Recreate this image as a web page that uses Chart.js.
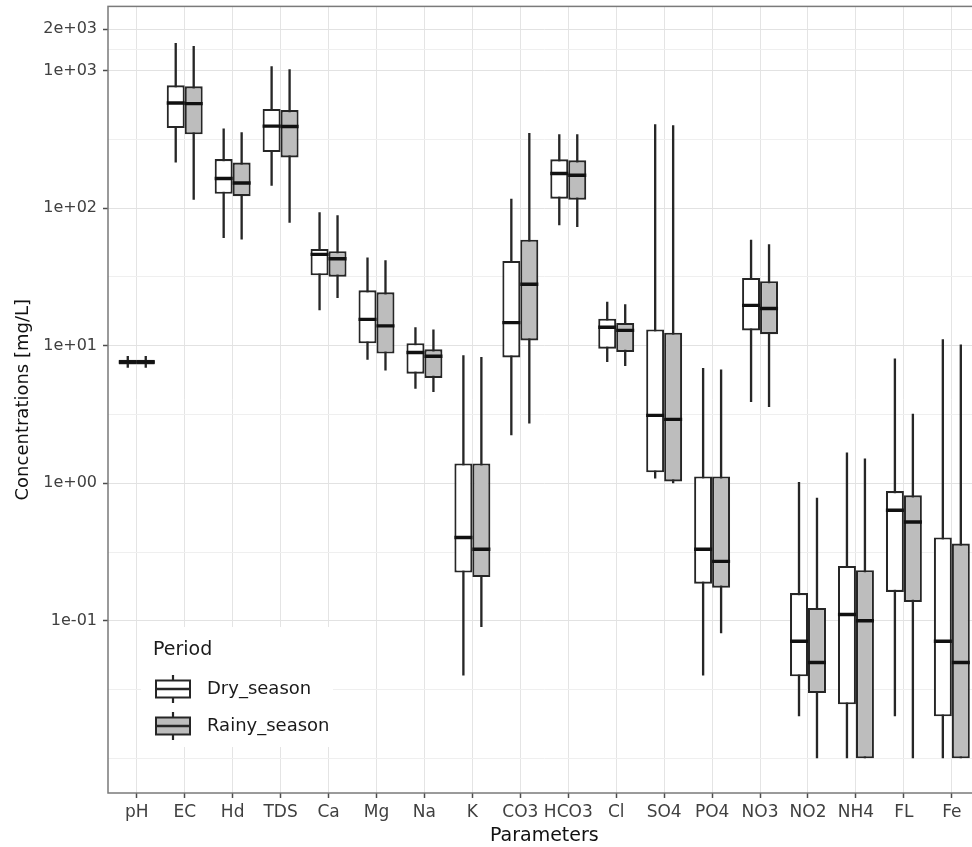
<!DOCTYPE html>
<html>
<head>
<meta charset="utf-8">
<title>Concentrations by parameter</title>
<script src="https://cdn.jsdelivr.net/npm/chart.js@4.4.1/dist/chart.umd.min.js"></script>
<style>
    html, body { margin: 0; padding: 0; background: #fff; overflow: hidden; }
    /* the median markers reserve 12px round the plot, so the canvas is shifted up to compensate */
    #wrap { width: 993px; height: 853px; margin-top: -6px; }
</style>
</head>
<body>
<div id="wrap"><canvas id="chart" width="993" height="853"></canvas></div>
<script>
const parameters = ["pH", "EC", "Hd", "TDS", "Ca", "Mg", "Na", "K", "CO3", "HCO3", "Cl", "SO4", "PO4", "NO3", "NO2", "NH4", "FL", "Fe"];

// dry season: whisker ends, quartiles, median (mg/L)
const dryMin    = [6.9, 214, 60.5, 145, 18.1, 7.9, 4.86, 0.040, 2.23, 74.8, 7.6, 1.08, 0.040, 3.89, 0.0202, 0.010, 0.0202, 0.010];
const dryQ1     = [7.3, 381, 127, 255, 32.4, 10.4, 6.25, 0.224, 8.2, 117, 9.5, 1.2, 0.186, 12.9, 0.0395, 0.0247, 0.162, 0.0202];
const dryMedian = [7.6, 580, 164, 394, 46, 15.5, 8.9, 0.403, 14.7, 178, 13.6, 3.11, 0.331, 19.6, 0.071, 0.111, 0.635, 0.071];
const dryQ3     = [7.9, 780, 227, 525, 50.4, 25.2, 10.4, 1.39, 41.2, 226, 15.7, 13.1, 1.12, 31, 0.159, 0.25, 0.877, 0.403];
const dryMax    = [8.4, 1582, 378, 1072, 93, 43.6, 13.6, 8.5, 117, 343, 20.8, 406, 6.87, 58.9, 1.02, 1.67, 8.06, 11.1];

// rainy season
const rainyMin    = [6.9, 115, 59, 78, 22.2, 6.6, 4.6, 0.090, 2.71, 72.8, 7.1, 1.0, 0.081, 3.58, 0.010, 0.010, 0.010, 0.010];
const rainyQ1     = [7.3, 343, 122, 233, 31.7, 8.75, 5.82, 0.208, 10.9, 115, 9.0, 1.03, 0.174, 12.1, 0.0298, 0.010, 0.137, 0.010];
const rainyMedian = [7.6, 574, 152, 391, 42.8, 13.9, 8.36, 0.331, 27.9, 173, 12.9, 2.91, 0.27, 18.6, 0.0497, 0.10, 0.522, 0.0497];
const rainyQ3     = [7.9, 766, 214, 515, 48.6, 24.4, 9.4, 1.39, 58.9, 222, 14.6, 12.4, 1.12, 29.4, 0.124, 0.233, 0.816, 0.364];
const rainyMax    = [8.4, 1503, 355, 1019, 88.5, 41.7, 13.1, 8.26, 351, 343, 20, 399, 6.7, 54.5, 0.785, 1.51, 3.2, 10.2];

const yBreaks = [0.1, 1, 10, 100, 1000, 2000];
const yBreakLabels = ["1e-01", "1e+00", "1e+01", "1e+02", "1e+03", "2e+03"];
const yMinorBreaks = [0.01, 0.0316, 0.316, 3.16, 31.6, 316, 1414];

const seasons = ["Dry_season", "Rainy_season"];
const seasonFill = ["#ffffff", "#bdbdbd"];

const dodge = 0.1875; // half of a box width, in category units
const lineCol = "#262626";

Chart.defaults.font.family = '"DejaVu Sans", sans-serif';

function boxes(q1, q3) {
    return parameters.map((p, i) => ({ x: i, y: [q1[i], q3[i]] }));
}
function whiskers(lo, hi) {
    return parameters.map((p, i) => ({ x: i, y: [lo[i], hi[i]] }));
}
function medians(med, shift) {
    return parameters.map((p, i) => ({ x: i + shift, y: med[i] }));
}

const panelPlugin = {
    id: "panel",
    afterDatasetsDraw(chart) {
        const { ctx, chartArea: a } = chart;
        ctx.save();
        // legend inside the panel, bottom left
        ctx.fillStyle = "#fff";
        ctx.fillRect(a.left + 33, a.bottom - 166, 192, 120);
        ctx.fillStyle = "#1a1a1a";
        ctx.font = '19px "DejaVu Sans"';
        ctx.textBaseline = "alphabetic";
        ctx.fillText("Period", a.left + 45, a.bottom - 138);
        ctx.font = '18px "DejaVu Sans"';
        ctx.textBaseline = "middle";
        const keyY = [a.bottom - 104, a.bottom - 67];
        seasons.forEach((s, k) => {
            const cy = keyY[k];
            const x0 = a.left + 48, x1 = a.left + 82, cx = (x0 + x1) / 2;
            ctx.strokeStyle = lineCol;
            ctx.lineWidth = 2.2;
            ctx.beginPath();
            ctx.moveTo(cx, cy - 14);
            ctx.lineTo(cx, cy + 14);
            ctx.stroke();
            ctx.fillStyle = seasonFill[k];
            ctx.fillRect(x0, cy - 8.5, x1 - x0, 17);
            ctx.lineWidth = 2;
            ctx.strokeRect(x0, cy - 8.5, x1 - x0, 17);
            ctx.lineWidth = 2.5;
            ctx.beginPath();
            ctx.moveTo(x0, cy);
            ctx.lineTo(x1, cy);
            ctx.stroke();
            ctx.fillStyle = "#1a1a1a";
            ctx.fillText(s, a.left + 99, cy);
        });
        ctx.restore();
    },
    afterDraw(chart) {
        const { ctx, chartArea: a } = chart;
        ctx.save();
        ctx.strokeStyle = "#7a7a7a";
        ctx.lineWidth = 1.5;
        ctx.strokeRect(a.left, a.top, a.right - a.left, a.bottom - a.top);
        ctx.restore();
    }
};

const boxCommon = {
    borderColor: lineCol,
    borderWidth: 2.1,
    borderSkipped: false,
    categoryPercentage: 0.75,
    barPercentage: 1,
    order: 2
};
const whiskerCommon = {
    backgroundColor: lineCol,
    borderWidth: 0,
    categoryPercentage: 0.75,
    barPercentage: 0.13,
    order: 3
};
const medianCommon = {
    type: "scatter",
    pointStyle: "line",
    pointRadius: 9,
    pointBorderWidth: 3.4,
    pointBorderColor: "#111",
    pointBackgroundColor: "#111",
    order: 1
};

new Chart(document.getElementById("chart"), {
    type: "bar",
    data: {
        datasets: [
            { ...boxCommon, label: seasons[0], stack: "dry", backgroundColor: seasonFill[0], data: boxes(dryQ1, dryQ3) },
            { ...boxCommon, label: seasons[1], stack: "rainy", backgroundColor: seasonFill[1], data: boxes(rainyQ1, rainyQ3) },
            { ...whiskerCommon, label: "dry whisker", stack: "dry", data: whiskers(dryMin, dryMax) },
            { ...whiskerCommon, label: "rainy whisker", stack: "rainy", data: whiskers(rainyMin, rainyMax) },
            { ...medianCommon, label: "dry median", data: medians(dryMedian, -dodge) },
            { ...medianCommon, label: "rainy median", data: medians(rainyMedian, dodge) }
        ]
    },
    options: {
        responsive: false,
        animation: false,
        devicePixelRatio: 1,
        layout: { padding: 0 },
        plugins: { legend: { display: false }, tooltip: { enabled: false } },
        scales: {
            x: {
                type: "linear",
                offset: false,
                min: -0.6,
                max: 17.6,
                grid: { offset: false, color: "#e4e4e4", lineWidth: 1, tickColor: "#4d4d4d", tickLength: 5, tickWidth: 1.5 },
                border: { display: false },
                afterBuildTicks: scale => { scale.ticks = parameters.map((p, i) => ({ value: i })); },
                afterFit: scale => {
                    scale.height = 54;
                    scale.paddingLeft = scale.paddingRight = scale.paddingTop = scale.paddingBottom = 0;
                },
                ticks: {
                    autoSkip: false,
                    maxRotation: 0,
                    padding: 4,
                    color: "#404040",
                    font: { size: 17 },
                    callback: v => parameters[v]
                },
                title: { display: true, text: "Parameters", color: "#111", font: { size: 19 }, padding: { top: 0, bottom: 0 } }
            },
            y: {
                type: "logarithmic",
                stacked: false,
                min: 0.0056,
                max: 2920,
                grid: {
                    color: c => (c.tick && c.tick.major ? "#e2e2e2" : "#efefef"),
                    lineWidth: 1,
                    tickColor: c => (c.tick && c.tick.major ? "#4d4d4d" : "rgba(0,0,0,0)"),
                    tickLength: 5,
                    tickWidth: 1.5
                },
                border: { display: false },
                afterBuildTicks: scale => {
                    const t = yMinorBreaks.map(v => ({ value: v, major: false }))
                        .concat(yBreaks.map(v => ({ value: v, major: true })));
                    t.sort((a, b) => a.value - b.value);
                    scale.ticks = t;
                },
                afterFit: scale => {
                    scale.width = 108;
                    scale.paddingLeft = scale.paddingRight = scale.paddingTop = scale.paddingBottom = 0;
                },
                ticks: {
                    autoSkip: false,
                    padding: 6,
                    color: "#404040",
                    font: { size: 16 },
                    callback: v => {
                        const k = yBreaks.indexOf(v);
                        return k >= 0 ? yBreakLabels[k] : "";
                    }
                },
                title: { display: true, text: "Concentrations [mg/L]", color: "#111", font: { size: 18 }, padding: { top: 13, bottom: 0 } }
            }
        }
    },
    plugins: [panelPlugin]
});
</script>
</body>
</html>
